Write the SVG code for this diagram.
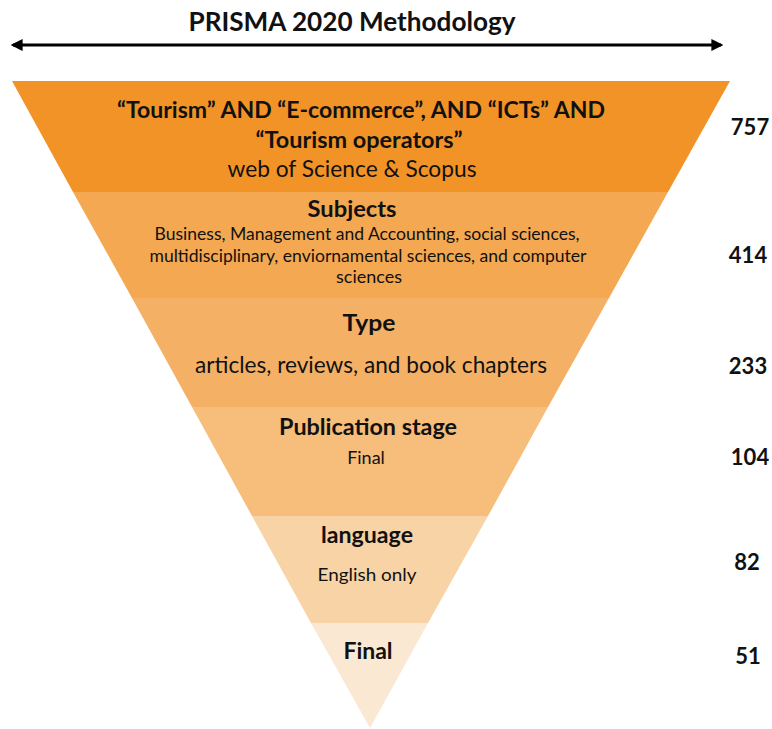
<svg xmlns="http://www.w3.org/2000/svg" width="772" height="729" viewBox="0 0 772 729">
  <style>
    text { font-family: Lato, "Open Sans", "Liberation Sans", sans-serif; fill: #111; text-anchor: middle; }
    .title { font-size: 26px; font-weight: 700; }
    .head { font-size: 23px; font-weight: 700; }
    .body { font-size: 22.5px; font-weight: 400; }
    .small { font-size: 17px; font-weight: 400; }
    .mid { font-size: 18px; font-weight: 400; }
    .num { font-size: 22px; font-weight: 700; }
    .axis { stroke: #000; stroke-width: 3; fill: none; }
  </style>
  <defs>
    <marker id="tip" viewBox="0 0 10 10" refX="8" refY="5" markerWidth="4" markerHeight="4" orient="auto-start-reverse" markerUnits="strokeWidth">
      <path d="M0,0 L10,5 L0,10 z" fill="#000"/>
    </marker>
  </defs>

  <text class="title" x="352" y="31" textLength="327" lengthAdjust="spacingAndGlyphs">PRISMA 2020 Methodology</text>

  <g id="connectors">
    <line class="axis" x1="13" y1="45" x2="721" y2="45" marker-start="url(#tip)" marker-end="url(#tip)"/>
  </g>

  <!-- funnel bands, top to bottom -->
  <g id="band-search">
    <polygon points="12,81 730,81 668,192 73,192" fill="#F19326"/>
    <text class="head" x="361" y="118" textLength="488" lengthAdjust="spacingAndGlyphs">“Tourism” AND “E-commerce”, AND “ICTs” AND</text>
    <text class="head" x="359" y="148" textLength="207" lengthAdjust="spacingAndGlyphs">“Tourism operators”</text>
    <text class="body" x="352" y="177" textLength="249" lengthAdjust="spacingAndGlyphs">web of Science &amp; Scopus</text>
    <text class="num" x="750" y="135">757</text>
  </g>

  <g id="band-subjects">
    <polygon points="73,192 668,192 609,298 132,298" fill="#F3A851"/>
    <text class="head" x="352" y="217" textLength="89" lengthAdjust="spacingAndGlyphs">Subjects</text>
    <text class="small" x="367" y="240" textLength="425" lengthAdjust="spacingAndGlyphs">Business, Management and Accounting, social sciences,</text>
    <text class="small" x="368" y="262" textLength="437" lengthAdjust="spacingAndGlyphs">multidisciplinary, enviornamental sciences, and computer</text>
    <text class="small" x="369" y="283" textLength="66" lengthAdjust="spacingAndGlyphs">sciences</text>
    <text class="num" x="748" y="263">414</text>
  </g>

  <g id="band-type">
    <polygon points="132,298 609,298 548,407 192,407" fill="#F4B064"/>
    <text class="head" x="369" y="331" textLength="53" lengthAdjust="spacingAndGlyphs">Type</text>
    <text class="body" x="371" y="373" textLength="352" lengthAdjust="spacingAndGlyphs">articles, reviews, and book chapters</text>
    <text class="num" x="748" y="374">233</text>
  </g>

  <g id="band-stage">
    <polygon points="192,407 548,407 488,516 252,516" fill="#F6BD7B"/>
    <text class="head" x="368" y="435" textLength="178" lengthAdjust="spacingAndGlyphs">Publication stage</text>
    <text class="mid" x="366" y="464">Final</text>
    <text class="num" x="750" y="465">104</text>
  </g>

  <g id="band-language">
    <polygon points="252,516 488,516 428,623 311,623" fill="#F7D3A6"/>
    <text class="head" x="367" y="543" textLength="92" lengthAdjust="spacingAndGlyphs">language</text>
    <text class="mid" x="367" y="581" textLength="99" lengthAdjust="spacingAndGlyphs">English only</text>
    <text class="num" x="747" y="570">82</text>
  </g>

  <g id="band-final">
    <polygon points="311,623 428,623 370,728" fill="#FBE8D3"/>
    <text class="head" x="368" y="659">Final</text>
    <text class="num" x="748" y="664">51</text>
  </g>
</svg>
